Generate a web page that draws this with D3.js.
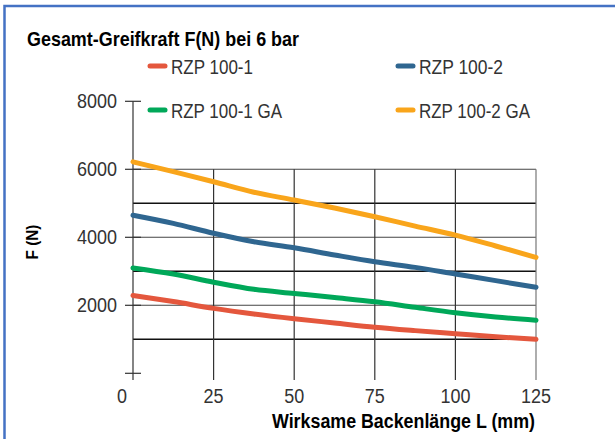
<!DOCTYPE html>
<html>
<head>
<meta charset="utf-8">
<script src="https://cdn.jsdelivr.net/npm/d3@7"></script>
<style>
  body { margin: 0; background: #fff; }
  svg text { font-family: "Liberation Sans", Arial, sans-serif; fill: #333; }
</style>
</head>
<body>
<svg id="chart" width="615" height="439"></svg>
<script>
// Wirksame Backenlaenge L (mm) and Greifkraft F (N)
var lengths = [0, 12.5, 25, 37.5, 50, 62.5, 75, 87.5, 100, 112.5, 125];
var rzp1   = [2290, 2110, 1910, 1745, 1605, 1480, 1355, 1255, 1165, 1075, 1000];
var rzp2   = [4650, 4410, 4120, 3870, 3690, 3480, 3280, 3115, 2920, 2725, 2530];
var rzp1GA = [3100, 2920, 2680, 2470, 2350, 2230, 2105, 1940, 1780, 1655, 1560];
var rzp2GA = [6220, 5930, 5635, 5325, 5095, 4860, 4605, 4330, 4065, 3745, 3410];

var seriesNames = ["RZP 100-1", "RZP 100-2", "RZP 100-1 GA", "RZP 100-2 GA"];
var seriesColors = ["#e4573d", "#2f6690", "#00a859", "#f9a51b"];
var xTicks = [0, 25, 50, 75, 100, 125];
var yTicks = [0, 2000, 4000, 6000, 8000];
var yGrid = [1000, 2000, 3000, 4000, 5000, 6000];

var svg = d3.select("#chart");

// the original font is a condensed one, so squeeze text to the measured widths
function squeeze(sel, w) {
    sel.attr("textLength", w).attr("lengthAdjust", "spacingAndGlyphs");
}

// blue frame, open to the right and bottom like the original crop
svg.append("rect")
    .attr("x", 4.5).attr("y", 6)
    .attr("width", 640).attr("height", 460)
    .attr("fill", "none")
    .attr("stroke", "#4472c4")
    .attr("stroke-width", 2.5);

var x = d3.scaleLinear().domain([0, 125]).range([133, 536]);
var y = d3.scaleLinear().domain([0, 8000]).range([373.3, 101.3]);
var yBottom = 380;

// horizontal grid
svg.selectAll("line.hgrid")
    .data(yGrid)
    .enter()
    .append("line")
    .attr("class", "hgrid")
    .attr("x1", x(0)).attr("x2", x(125))
    .attr("y1", function(d) { return y(d); })
    .attr("y2", function(d) { return y(d); })
    .attr("stroke", function(d) { return d % 2000 ? "#111" : "#444"; })
    .attr("stroke-width", function(d) { return d % 2000 ? 1.5 : 1.1; });

// vertical grid, running down past zero as the x ticks
svg.selectAll("line.vgrid")
    .data(xTicks.slice(1))
    .enter()
    .append("line")
    .attr("class", "vgrid")
    .attr("x1", function(d) { return x(d); })
    .attr("x2", function(d) { return x(d); })
    .attr("y1", y(6000)).attr("y2", yBottom)
    .attr("stroke", function(d) { return d == 125 ? "#777" : "#333"; })
    .attr("stroke-width", 1.2);

// y axis line and ticks
svg.append("line")
    .attr("x1", x(0)).attr("x2", x(0))
    .attr("y1", y(8000)).attr("y2", yBottom)
    .attr("stroke", "#333").attr("stroke-width", 1.2);

svg.selectAll("line.ytick")
    .data(yTicks)
    .enter()
    .append("line")
    .attr("class", "ytick")
    .attr("x1", x(0) - 8).attr("x2", x(0) + 8)
    .attr("y1", function(d) { return y(d); })
    .attr("y2", function(d) { return y(d); })
    .attr("stroke", "#333").attr("stroke-width", 1.2);

svg.selectAll("text.ylabel")
    .data(yTicks.slice(1))
    .enter()
    .append("text")
    .attr("class", "ylabel")
    .attr("x", 117)
    .attr("y", function(d) { return y(d) + 7; })
    .attr("text-anchor", "end")
    .style("font-size", "20px")
    .attr("textLength", 40).attr("lengthAdjust", "spacingAndGlyphs")
    .text(function(d) { return d; });

svg.selectAll("text.xlabel")
    .data(xTicks)
    .enter()
    .append("text")
    .attr("class", "xlabel")
    .attr("x", function(d) { return d == 0 ? x(d) - 6 : x(d); })
    .attr("y", 402.5)
    .attr("text-anchor", function(d) { return d == 0 ? "end" : "middle"; })
    .style("font-size", "20px")
    .attr("textLength", function(d) { return String(d).length * 10; })
    .attr("lengthAdjust", "spacingAndGlyphs")
    .text(function(d) { return d; });

// curves
var allSeries = [rzp1, rzp2, rzp1GA, rzp2GA];
var line = d3.line()
    .x(function(d, i) { return x(lengths[i]); })
    .y(function(d) { return y(d); })
    .curve(d3.curveMonotoneX);

svg.selectAll("path.series")
    .data(allSeries)
    .enter()
    .append("path")
    .attr("class", "series")
    .attr("d", line)
    .attr("fill", "none")
    .attr("stroke", function(d, i) { return seriesColors[i]; })
    .attr("stroke-width", 5)
    .attr("stroke-linecap", "round");

// titles
svg.append("text")
    .attr("x", 27).attr("y", 46)
    .style("font-size", "21px").style("font-weight", "bold").style("fill", "#000")
    .text("Gesamt-Greifkraft F(N) bei 6 bar")
    .call(squeeze, 272);

svg.append("text")
    .attr("x", 535).attr("y", 428)
    .attr("text-anchor", "end")
    .style("font-size", "20px").style("font-weight", "bold").style("fill", "#000")
    .text("Wirksame Backenlänge L (mm)")
    .call(squeeze, 263);

svg.append("text")
    .attr("transform", "translate(38,242) rotate(-90)")
    .attr("text-anchor", "middle")
    .style("font-size", "16px").style("font-weight", "bold").style("fill", "#000")
    .text("F (N)")
    .call(squeeze, 35);

// legend, two columns
var legendPos = [[148, 66], [396, 66], [148, 110], [396, 110]];
var legendWidth = [82, 84, 111, 111];
var legend = svg.selectAll("g.legend")
    .data(seriesNames)
    .enter()
    .append("g")
    .attr("class", "legend")
    .attr("transform", function(d, i) { return "translate(" + legendPos[i][0] + "," + legendPos[i][1] + ")"; });

legend.append("line")
    .attr("x1", 2).attr("x2", 17)
    .attr("y1", 0).attr("y2", 0)
    .attr("stroke", function(d, i) { return seriesColors[i]; })
    .attr("stroke-width", 5)
    .attr("stroke-linecap", "round");

legend.append("text")
    .attr("x", 23).attr("y", 7.5)
    .style("font-size", "20px")
    .attr("textLength", function(d, i) { return legendWidth[i]; })
    .attr("lengthAdjust", "spacingAndGlyphs")
    .text(function(d) { return d; });
</script>
</body>
</html>
